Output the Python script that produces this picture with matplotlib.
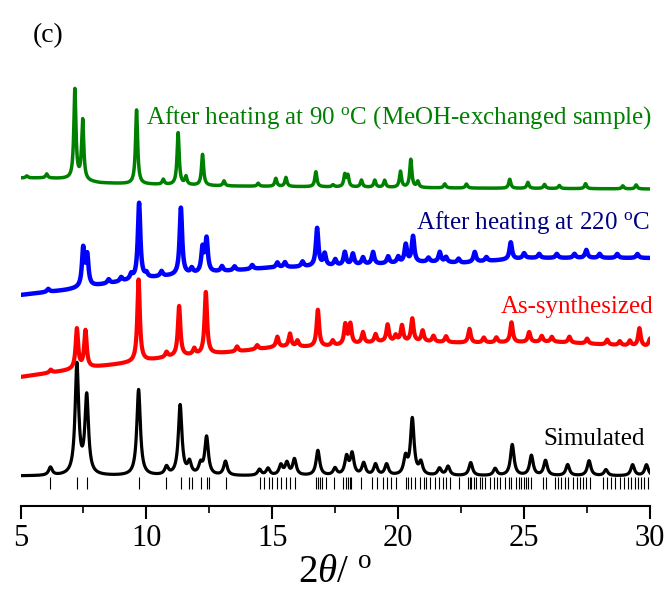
import numpy as np
import matplotlib.pyplot as plt

plt.rcParams['font.family'] = ['Liberation Serif', 'DejaVu Serif']
plt.rcParams['mathtext.fontset'] = 'custom'
plt.rcParams['mathtext.rm'] = 'Liberation Serif'
plt.rcParams['mathtext.it'] = 'Liberation Serif:italic'

# simulated pattern: peak positions (2theta) and heights
sim_pos = [6.19, 7.24, 7.63, 9.69, 10.8, 11.34, 11.71, 12.15, 12.39, 13.14,
           14.49, 14.83, 15.34, 15.58, 15.88, 16.81, 17.49, 17.95, 18.17, 18.63,
           19.1, 19.54, 20.29, 20.56, 20.9, 21.64, 21.98, 22.88, 23.85, 24.53,
           25.29, 25.85, 26.73, 27.58, 28.25, 29.31, 29.86]
sim_h = [8, 110, 78, 86, 8, 70, 12, 10, 38, 14,
         6, 7, 10, 12, 16, 25, 7, 18, 21, 12,
         11, 11, 17, 56, 12, 7, 9, 13, 7, 31,
         20, 15, 11, 15, 6, 11, 11]
sim_base = 30

# reflection positions (tick marks under the simulated pattern)
refl = [6.17, 7.25, 7.63, 9.71, 10.77, 11.36, 11.70, 11.83, 12.15, 12.41, 12.49,
        13.15, 14.5, 14.66, 14.85, 15.0, 15.17, 15.33, 15.54, 15.7, 15.91,
        16.75, 16.81, 16.88, 16.99, 17.15, 17.45, 17.81, 17.94, 18.0, 18.07, 18.14,
        18.54, 18.94, 19.16, 19.4, 19.56, 19.73, 19.93, 20.3, 20.39, 20.52,
        20.65, 20.85, 21.01, 21.09, 21.25, 21.45, 21.62, 21.78, 21.91, 22.05,
        22.41, 22.77, 22.84, 22.9, 23.0, 23.1, 23.24, 23.34, 23.43, 23.63,
        23.79, 23.92, 24.06, 24.23, 24.4, 24.49, 24.66, 24.8, 24.89, 24.98,
        25.09, 25.15, 25.29, 25.75, 25.88, 26.21, 26.34, 26.48, 26.61, 26.74,
        26.94, 27.1, 27.21, 27.34, 27.47, 27.6, 28.13, 28.29, 28.46, 28.6,
        28.79, 28.95, 29.12, 29.26, 29.39, 29.52, 29.65, 29.78, 29.91]

# as-synthesized
red_pos = [6.2, 7.24, 7.58, 9.69, 10.8, 11.3, 11.9, 12.36, 13.6, 14.4, 15.2,
           15.7, 16.0, 16.81, 17.4, 17.9, 18.1, 18.6, 19.1, 19.58, 19.9, 20.15,
           20.56, 20.97, 21.4, 21.9, 22.83, 23.4, 23.9, 24.5, 25.2, 25.7, 26.1,
           26.8, 27.5, 28.3, 28.8, 29.2, 29.58, 30.0]
red_h = [3, 40, 37, 82, 5, 50, 6, 62, 5, 4, 10,
         13, 6, 37, 5, 20, 20, 11, 8, 17, 6, 16,
         23, 11, 6, 6, 14, 5, 5, 20, 10, 6, 5,
         6, 5, 5, 4, 5, 18, 8]
red_bg_x = [5, 7.6, 9.3, 11, 13.5, 15.2, 16.9, 19.4, 21.1, 22.8, 26.2, 30]
red_bg_y = [129, 138, 143, 149, 154, 159, 159, 164, 164, 163, 164, 159]

# after heating at 220 C
blue_pos = [6.1, 7.49, 7.65, 8.5, 9.0, 9.4, 9.71, 10.0, 10.6, 11.37, 11.8,
            12.23, 12.39, 13.0, 13.5, 14.2, 15.2, 15.5, 16.2, 16.78, 17.08,
            17.5, 17.88, 18.2, 18.6, 19.0, 19.6, 20.0, 20.3, 20.59, 21.2,
            21.65, 21.9, 22.4, 23.04, 23.5, 24.47, 25.0, 25.6, 26.3, 27.0,
            27.47, 28.0, 28.7, 29.5]
blue_h = [3, 38, 30, 4, 4, 5, 76, 4, 5, 67, 5,
          24, 33, 5, 4, 4, 5, 5, 5, 38, 12,
          6, 13, 11, 7, 12, 7, 6, 18, 26, 4,
          10, 5, 4, 10, 4, 17, 5, 4, 4, 4,
          8, 4, 4, 4]
blue_bg_x = [5, 6.83, 8.16, 9.47, 10.5, 12.8, 14.77, 17.4, 21.25, 22.56, 25.2, 30]
blue_bg_y = [211, 216, 221, 226, 229, 234, 238, 240, 244, 243, 248, 248]

# after heating at 90 C (MeOH-exchanged)
green_pos = [5.25, 6.04, 7.16, 7.47, 9.61, 10.67, 11.26, 11.57, 12.23, 13.08,
             14.44, 15.14, 15.54, 16.73, 17.41, 17.88, 18.0, 18.54, 19.07, 19.46,
             20.09, 20.5, 20.78, 21.85, 22.71, 24.43, 25.15, 25.81, 26.4, 27.44,
             28.92, 29.45]
green_h = [2, 4, 90, 60, 74, 5, 52, 8, 31, 5,
           3, 8, 9, 15, 2, 12, 11, 7, 7, 7,
           16, 28, 6, 4, 4, 9, 6, 4, 3, 5,
           3, 4]
green_bg_x = [5, 5.9, 6.83, 8.16, 9.47, 13, 17.4, 22, 30]
green_bg_y = [328, 328, 327, 323, 322, 320, 319, 318, 317]


def pattern(x, pos, h, fwhm):
    y = np.zeros_like(x)
    for p, a in zip(pos, h):
        y += a / (1 + ((x - p) / (fwhm / 2)) ** 2)
    return y


x = np.linspace(5, 30, 2501)

fig = plt.figure(figsize=(6.7, 5.94), dpi=100)
ax = fig.add_axes([20.5 / 670, 1 - 506 / 594, 629.5 / 670, 446 / 594])

ax.vlines(refl, 17, 29, color='k', lw=0.8)
ax.plot(x, sim_base + pattern(x, sim_pos, sim_h, 0.17), color='k', lw=2.3, zorder=2)
ax.plot(x, np.interp(x, red_bg_x, red_bg_y) + pattern(x, red_pos, red_h, 0.12),
        color='#ff0000', lw=3.0, zorder=3)
ax.plot(x, np.interp(x, blue_bg_x, blue_bg_y) + pattern(x, blue_pos, blue_h, 0.12),
        color='#0000ff', lw=3.2, zorder=3)
ax.plot(x, np.interp(x, green_bg_x, green_bg_y) + pattern(x, green_pos, green_h, 0.1),
        color='#008000', lw=2.5, zorder=3)

fs = 18
ax.text(30.07, 382, r'After heating at 90 $^{\rm o}$C (MeOH-exchanged sample)',
        color='#008000', fontsize=fs, ha='right', va='baseline')
ax.text(30.0, 277, r'After heating at 220 $^{\rm o}$C',
        color='#000080', fontsize=fs, ha='right', va='baseline')
ax.text(30.12, 193, 'As-synthesized', color='#ff0000', fontsize=fs,
        ha='right', va='baseline')
ax.text(29.78, 61, 'Simulated', color='k', fontsize=fs, ha='right', va='baseline')
fig.text(33 / 670, 1 - 42 / 594, '(c)', fontsize=20, ha='left', va='baseline')

ax.set_xlim(5, 30)
ax.set_ylim(0, 446)
for s in ['left', 'right', 'top']:
    ax.spines[s].set_visible(False)
ax.spines['bottom'].set_linewidth(1.5)
ax.set_yticks([])
ax.set_xticks([5, 10, 15, 20, 25, 30])
ax.set_xticks(np.arange(7.5, 30, 5), minor=True)
ax.tick_params(axis='x', which='major', direction='out', length=9, width=1.5,
               labelsize=22, pad=4)
ax.tick_params(axis='x', which='minor', direction='out', length=5, width=1.2)
ax.set_xlabel(r'$2\mathit{\theta}$/ $^{\rm o}$', fontsize=28, labelpad=1)

fig.savefig('out.png', dpi=100)
